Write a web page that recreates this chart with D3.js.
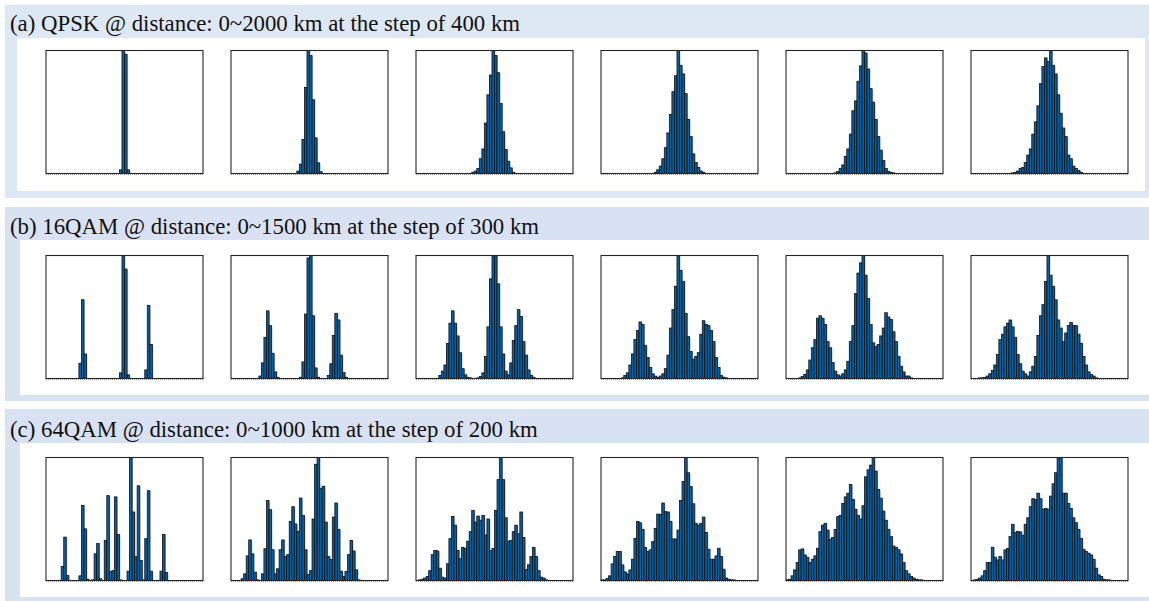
<!DOCTYPE html>
<html><head><meta charset="utf-8">
<script src="https://cdn.jsdelivr.net/npm/d3@7"></script>
<style>body{margin:0;background:#fff;} svg{display:block;}</style>
</head><body><svg id="chart" width="1149" height="601"></svg>
<script>
// ---------------- data ----------------
const sectionTitles = [
  "(a) QPSK @ distance: 0~2000 km at the step of 400 km",
  "(b) 16QAM @ distance: 0~1500 km at the step of 300 km",
  "(c) 64QAM @ distance: 0~1000 km at the step of 200 km"
];
const binCount = 62;                 // histogram bins across each panel
// relative bin heights (% of panel height), first bin index for each panel
const qpskStartBins = [29, 26, 22, 21, 19, 16];
const qpsk0km    = [3, 100, 97, 3];
const qpsk400km  = [2, 7.6, 27.6, 70, 100, 96, 60, 29, 8.7, 1.4];
const qpsk800km  = [1, 2, 4, 12, 20, 41, 64, 80, 100, 96, 82, 57, 34, 19.5, 10, 4.6, 1];
const qpsk1200km = [1, 3, 6, 12, 21, 33, 48, 66.5, 79.5, 100, 88, 81, 65, 44, 30, 16, 9, 5, 2, 1];
const qpsk1600km = [0.5, 1.6, 4, 7, 14, 20, 32, 51, 59, 75, 87.5, 100, 98, 85, 69, 58, 44, 30, 19, 10.5, 4, 1.6, 1, 0.5];
const qpsk2000km = [0.5, 1, 2, 4, 5, 9, 15, 20, 32, 42, 55, 73, 87, 94, 91, 100, 88, 81, 64, 49, 37, 30, 15, 12, 6, 4, 2.5, 1];

const qam16StartBins = [13, 11, 9, 8, 5, 3];
const qam16_0km    = [12.4, 64, 20, 0, 0, 0, 0, 0, 0, 0, 0, 0, 0, 0, 0, 0, 4.6, 100, 89, 3, 0, 0, 0, 0, 0, 0, 7, 59.5, 27.6];
const qam16_300km  = [2, 12.7, 33.5, 55, 43, 20.5, 5.4, 1, 0, 0, 0, 0, 0, 0, 0, 0, 1, 13.5, 52.4, 98, 100, 51, 8.6, 1, 0, 0, 0, 2.4, 12, 35, 53, 47.6, 19, 5, 1];
const qam16_600km  = [2.4, 6, 11, 28.6, 45, 55, 45, 34.6, 21, 8, 3, 1, 0.5, 0, 0, 0.5, 1.6, 4.6, 18, 42, 81, 100, 100, 77, 42, 20, 6, 3, 12.7, 31, 43, 56, 50.5, 30, 19, 7, 2.7, 1];
const qam16_900km  = [0.5, 2.4, 4.6, 11, 20, 31.6, 39, 46, 44, 27, 17, 9, 3.8, 1.9, 1, 2, 3.8, 8, 19, 41, 56, 75, 100, 88, 79, 53, 34, 22, 15.7, 18, 21, 36, 47, 44, 43, 39, 30, 17, 9, 2.4, 1, 0.5];
const qam16_1200km = [0.5, 1.6, 3.2, 7, 15, 25, 31.6, 49, 51, 49, 44, 30, 25, 13, 6, 3, 2, 3.8, 7, 14, 30, 43, 69, 85.7, 94, 100, 84, 65, 44, 29, 26, 27.6, 34.6, 41, 53.5, 50, 48, 38, 30, 18, 10, 5.4, 2, 2, 0.5];
const qam16_1500km = [0.5, 0.5, 1, 2, 3.8, 6.5, 11, 19.5, 31.6, 36, 42, 45, 47.6, 42, 33.5, 19.5, 12, 6, 3.8, 2, 5.4, 10, 18, 35, 51, 60, 79, 100, 84, 75, 64, 47.6, 41, 30, 37, 43, 45.7, 43, 43, 36, 28.6, 18, 11, 5.4, 3.2, 2, 0.5];

const qam64StartBins = [6, 4, 1, 0, 0, 1];
const qam64_0km    = [11.4, 35.3, 4, 0, 0, 0, 0, 3.8, 61, 42, 1, 0, 0.5, 21.7, 30, 1.4, 0, 32.6, 69, 7.3, 8, 68, 37.5, 0.5, 0, 0, 7.6, 100, 55.7, 19.6, 77, 16.3, 0.5, 34, 73, 7.6, 0, 0, 0, 7.6, 37.5, 6.5];
const qam64_200km  = [1.4, 5.4, 20, 33, 21.7, 6.8, 0.5, 0, 5.4, 25.8, 65, 57.6, 25, 5.4, 9.5, 25, 33, 19.6, 21, 48, 60, 46, 40, 67, 53, 25, 5, 8, 50, 94.5, 100, 75, 76.6, 47.5, 19.6, 17, 51.6, 63, 41.6, 7.6, 3.3, 7.3, 21, 32.6, 24, 8.7, 0.5];
const qam64_400km  = [0.5, 1, 2, 3.3, 8, 21, 24.5, 24, 10, 2.7, 2, 13.6, 34, 52, 45, 24.5, 17.7, 27, 26, 32, 39.7, 57, 47.5, 52.4, 49, 53, 37, 50, 24.5, 26, 57, 82, 100, 82, 51, 32, 32.6, 39.7, 45, 38, 55.7, 35, 9, 12.8, 19.6, 27, 19.6, 8, 2.7, 2, 0.5];
const qam64_600km  = [0.5, 0.5, 1.6, 3.8, 13.5, 19.5, 23.5, 23.5, 12.7, 7, 5.4, 8.6, 17.3, 34.3, 48, 47, 41.6, 26.8, 23.5, 24.9, 31.6, 42.4, 54, 53.8, 63, 56, 55.7, 48, 33.8, 33.8, 41, 65, 80.5, 100, 87.6, 76.5, 62.4, 46.5, 45, 46.5, 51.6, 39, 25.4, 17.3, 17.3, 20, 26.2, 19.5, 9.2, 2, 1, 0.5, 0.5];
const qam64_800km  = [0.5, 1, 3.8, 8.6, 14.6, 24.9, 25.7, 20.8, 18.9, 14.6, 17.3, 20, 26.2, 39.7, 45, 46.5, 41, 33.5, 35, 41.6, 51.9, 53, 62.7, 68, 71, 78, 66, 58, 53, 50, 60.8, 84.3, 90, 93.8, 100, 89, 74, 67, 56.5, 49, 41.6, 35.7, 28, 27, 25, 21.6, 14.6, 8, 5.4, 3.2, 2, 1, 0.5, 0.5];
const qam64_1000km = [0.5, 1, 2, 3.8, 8, 14.6, 14.6, 27, 19, 16.7, 19.5, 16.7, 24.9, 26, 35.7, 45.7, 38.9, 40, 39.5, 36.8, 45.7, 51, 60, 66.5, 65.9, 71, 66.5, 58, 58.6, 58, 68.6, 78.6, 87.6, 100, 100, 71, 71, 62.7, 58.6, 51, 47, 41.6, 34.3, 25.4, 23.5, 22.2, 20.8, 17.3, 10, 4.6, 3.2, 1, 0.5, 0.5];

// table built from the named arrays
const rows = [
  {title: sectionTitles[0], starts: qpskStartBins, panels: [qpsk0km, qpsk400km, qpsk800km, qpsk1200km, qpsk1600km, qpsk2000km]},
  {title: sectionTitles[1], starts: qam16StartBins, panels: [qam16_0km, qam16_300km, qam16_600km, qam16_900km, qam16_1200km, qam16_1500km]},
  {title: sectionTitles[2], starts: qam64StartBins, panels: [qam64_0km, qam64_200km, qam64_400km, qam64_600km, qam64_800km, qam64_1000km]}
];

// ---------------- layout ----------------
const svg = d3.select("#chart");
const sections = [
  {y0: 5,   y1: 198, wx0: 17, wx1: 1145, wy0: 38,  wy1: 191, fill: "#dee8f4", textY: 31,  panelTop: 50.5},
  {y0: 207, y1: 401, wx0: 20, wx1: 1149, wy0: 240, wy1: 395, fill: "#d9e2f2", textY: 234, panelTop: 255.5},
  {y0: 409, y1: 601, wx0: 20, wx1: 1149, wy0: 443, wy1: 597, fill: "#d9e2f2", textY: 437, panelTop: 457.5}
];
const panelLeft = 46, panelStep = 185, panelW = 157, panelH = 123;

rows.forEach((row, r) => {
  const s = sections[r];
  const g = svg.append("g");
  g.append("rect").attr("x", 5).attr("y", s.y0).attr("width", 1144).attr("height", s.y1 - s.y0).attr("fill", s.fill);
  g.append("rect").attr("x", s.wx0).attr("y", s.wy0).attr("width", s.wx1 - s.wx0).attr("height", s.wy1 - s.wy0).attr("fill", "#ffffff");
  g.append("text").attr("x", 10).attr("y", s.textY)
    .attr("font-family", "'Liberation Serif','Times New Roman',serif")
    .attr("font-size", 22.8).attr("fill", "#111").text(row.title);

  row.panels.forEach((vals, p) => {
    const x0 = panelLeft + p * panelStep;
    const top = s.panelTop;
    const x = d3.scaleLinear().domain([0, binCount]).range([x0, x0 + panelW]);
    const y = d3.scaleLinear().domain([0, 100]).range([top + panelH, top]);
    const start = row.starts[p];
    const data = vals.map((v, k) => ({bin: start + k, v})).filter(d => d.v > 0);
    const pg = g.append("g");
    pg.append("rect").attr("x", x0).attr("y", top).attr("width", panelW).attr("height", panelH).attr("fill", "#fff");
    pg.append("line").attr("x1", x0).attr("x2", x0 + panelW).attr("y1", y(0) + 1).attr("y2", y(0) + 1)
      .attr("stroke", "#9a9a9a").attr("stroke-width", 1).attr("stroke-dasharray", "1,1");
    pg.selectAll("rect.sh").data(data).join("rect").attr("class", "sh")
      .attr("x", d => x(d.bin) + 1).attr("y", d => y(d.v) + 0.5)
      .attr("width", d => x(d.bin + 1) - x(d.bin)).attr("height", d => y(0) - y(d.v))
      .attr("fill", "#a8a8a8").attr("opacity", 0.7);
    pg.selectAll("rect.bar").data(data).join("rect").attr("class", "bar")
      .attr("x", d => x(d.bin)).attr("y", d => y(d.v))
      .attr("width", d => x(d.bin + 1) - x(d.bin)).attr("height", d => y(0) - y(d.v))
      .attr("fill", "#0861a3").attr("stroke", "#111").attr("stroke-width", 0.8);
    pg.append("rect").attr("x", x0).attr("y", top).attr("width", panelW).attr("height", panelH)
      .attr("fill", "none").attr("stroke", "#262626").attr("stroke-width", 1.1);
  });
});
</script></body></html>
